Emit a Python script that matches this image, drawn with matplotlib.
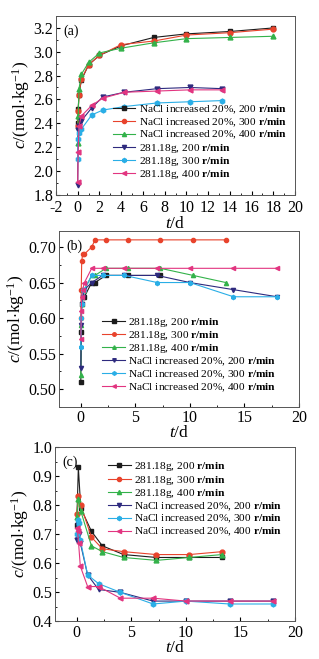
import numpy as np
import matplotlib
matplotlib.use("Agg")
import matplotlib.pyplot as plt
from matplotlib.ticker import MultipleLocator, FormatStrFormatter

plt.rcParams['font.family'] = ['Liberation Serif', 'DejaVu Serif']
plt.rcParams['mathtext.fontset'] = 'custom'
plt.rcParams['mathtext.rm'] = 'Liberation Serif'
plt.rcParams['mathtext.it'] = 'Liberation Serif:italic'
plt.rcParams['mathtext.bf'] = 'Liberation Serif:bold'
plt.rcParams['axes.unicode_minus'] = False

# ---- panel (a) ----
a_t_nacl = [0.0, 0.04, 0.12, 0.33, 1, 2, 4, 7, 10, 14, 18]
a_nacl_200 = [2.40, 2.52, 2.64, 2.76, 2.89, 2.97, 3.05, 3.12, 3.15, 3.17, 3.20]
a_nacl_300 = [2.38, 2.50, 2.64, 2.77, 2.89, 2.97, 3.06, 3.09, 3.14, 3.16, 3.19]
a_nacl_400 = [2.23, 2.46, 2.69, 2.81, 2.91, 2.99, 3.03, 3.075, 3.11, 3.12, 3.13]
a_t_g = [0.0, 0.04, 0.12, 0.33, 1.3, 2.3, 4.3, 7.3, 10.3, 13.3]
a_g_200 = [1.88, 2.34, 2.38, 2.42, 2.53, 2.62, 2.66, 2.69, 2.70, 2.69]
a_g_300 = [2.10, 2.27, 2.32, 2.35, 2.47, 2.51, 2.54, 2.57, 2.58, 2.59]
a_g_400 = [1.91, 2.16, 2.38, 2.46, 2.55, 2.61, 2.66, 2.67, 2.68, 2.68]

# ---- panel (b) ----
b_t_g = [0.0, 0.04, 0.08, 0.17, 0.33, 1.0, 1.3, 2.3, 4.3, 7.3, 10.3, 13.3]
b_g_200 = [0.51, 0.58, 0.62, 0.63, 0.63, 0.65, 0.65, 0.66, 0.66, 0.66]
b_g_300 = [0.60, 0.64, 0.68, 0.69, 0.69, 0.70, 0.71, 0.71, 0.71, 0.71, 0.71, 0.71]
b_g_400 = [0.52, 0.59, 0.62, 0.64, 0.64, 0.66, 0.66, 0.67, 0.67, 0.67, 0.66, 0.65]
b_t_nacl = [0.0, 0.04, 0.08, 0.17, 0.33, 1, 2, 4, 7, 10, 14, 18]
b_nacl_200 = [0.53, 0.59, 0.62, 0.63, 0.64, 0.65, 0.66, 0.66, 0.66, 0.65, 0.64, 0.63]
b_nacl_300 = [0.56, 0.60, 0.62, 0.64, 0.64, 0.66, 0.66, 0.66, 0.65, 0.65, 0.63, 0.63]
b_nacl_400 = [0.57, 0.61, 0.63, 0.64, 0.65, 0.67, 0.67, 0.67, 0.67, 0.67, 0.67, 0.67]

# ---- panel (c) ----
c_t_g = [0.0, 0.15, 0.37, 1.35, 2.35, 4.3, 7.3, 10.3, 13.3]
c_g_200 = [0.73, 0.93, 0.79, 0.71, 0.66, 0.63, 0.62, 0.62, 0.62]
c_g_300 = [0.77, 0.83, 0.80, 0.69, 0.65, 0.64, 0.63, 0.63, 0.64]
c_g_400 = [0.76, 0.82, 0.78, 0.66, 0.64, 0.62, 0.61, 0.62, 0.63]
c_t_nacl = [0.0, 0.08, 0.17, 0.33, 1, 2, 4, 7, 10, 14, 18]
c_nacl_200 = [0.68, 0.73, 0.70, 0.67, 0.56, 0.51, 0.50, 0.47, 0.47, 0.47, 0.47]
c_nacl_300 = [0.70, 0.75, 0.74, 0.68, 0.56, 0.53, 0.50, 0.46, 0.47, 0.46, 0.46]
c_nacl_400 = [0.72, 0.71, 0.67, 0.59, 0.52, 0.52, 0.48, 0.48, 0.47, 0.47, 0.47]

rm = r' $\mathbf{r/min}$'
lab_nacl = ['NaCl increased 20%, 200' + rm, 'NaCl increased 20%, 300' + rm,
            'NaCl increased 20%, 400' + rm]
lab_g = ['281.18g, 200' + rm, '281.18g, 300' + rm, '281.18g, 400' + rm]

col_black = '#1c1c1c'
col_red = '#e8432c'
col_green = '#33b24a'
col_navy = '#2e2a7e'
col_cyan = '#2aaee6'
col_pink = '#e23580'

ylab = r'$c$/(mol$\cdot$kg$^{-1}$)'
xlab = r'$t$/d'

fig = plt.figure(figsize=(3.19, 6.59), dpi=100)
axa = fig.add_axes([0.1755, 0.7046, 0.7495, 0.2711])
axb = fig.add_axes([0.185, 0.3824, 0.752, 0.2671])
axc = fig.add_axes([0.172, 0.057, 0.753, 0.2647])

ms = 3.5
lw = 0.8

def style(ax, xpad=2.5, lpad=-1):
    ax.tick_params(which='both', direction='in', labelsize=11.5)
    ax.tick_params(axis='x', pad=xpad)
    ax.tick_params(axis='y', pad=2)
    ax.tick_params(which='major', length=3)
    ax.tick_params(which='minor', length=1.5)
    for s in ax.spines.values():
        s.set_linewidth(0.7)
        s.set_color('#555555')
    ax.set_xlabel(xlab, fontsize=12.5, labelpad=lpad)
    ax.set_ylabel(ylab, fontsize=12.5, labelpad=1)

def add_legend(ax, loc, anchor):
    ax.legend(loc=loc, bbox_to_anchor=anchor, frameon=False, fontsize=8.2,
              handlelength=2.0, handletextpad=0.3, labelspacing=0.03,
              borderpad=0.2, markerscale=0.85)

# (a)
axa.plot(a_t_nacl, a_nacl_200, '-s', color=col_black, ms=ms, lw=lw, label=lab_nacl[0])
axa.plot(a_t_nacl, a_nacl_300, '-o', color=col_red, ms=ms, lw=lw, label=lab_nacl[1])
axa.plot(a_t_nacl, a_nacl_400, '-^', color=col_green, ms=ms, lw=lw, label=lab_nacl[2])
axa.plot(a_t_g, a_g_200, '-v', color=col_navy, ms=ms, lw=lw, label=lab_g[0])
axa.plot(a_t_g, a_g_300, '-h', color=col_cyan, ms=ms, lw=lw, label=lab_g[1])
axa.plot(a_t_g, a_g_400, '-<', color=col_pink, ms=ms, lw=lw, label=lab_g[2])
axa.set_xlim(-2, 20)
axa.set_ylim(1.8, 3.3)
axa.xaxis.set_major_locator(MultipleLocator(2))
axa.xaxis.set_minor_locator(MultipleLocator(1))
axa.yaxis.set_major_locator(MultipleLocator(0.2))
axa.yaxis.set_minor_locator(MultipleLocator(0.1))
axa.yaxis.set_major_formatter(FormatStrFormatter('%.1f'))
axa.text(0.03, 0.95, '(a)', transform=axa.transAxes, fontsize=10, va='top')
style(axa, xpad=4, lpad=-0.5)
add_legend(axa, 'lower right', (1.0, 0.03))

# (b)
axb.plot(b_t_g[:len(b_g_200)], b_g_200, '-s', color=col_black, ms=ms - 0.5, lw=lw, label=lab_g[0])
axb.plot(b_t_g, b_g_300, '-o', color=col_red, ms=ms - 0.5, lw=lw, label=lab_g[1])
axb.plot(b_t_g, b_g_400, '-^', color=col_green, ms=ms - 0.5, lw=lw, label=lab_g[2])
axb.plot(b_t_nacl, b_nacl_200, '-v', color=col_navy, ms=ms - 0.5, lw=lw, label=lab_nacl[0])
axb.plot(b_t_nacl, b_nacl_300, '-h', color=col_cyan, ms=ms - 0.5, lw=lw, label=lab_nacl[1])
axb.plot(b_t_nacl, b_nacl_400, '-<', color=col_pink, ms=ms - 0.5, lw=lw, label=lab_nacl[2])
axb.set_xlim(-2, 20)
axb.set_ylim(0.475, 0.7225)
axb.xaxis.set_major_locator(MultipleLocator(5))
axb.xaxis.set_minor_locator(MultipleLocator(2.5))
axb.yaxis.set_major_locator(MultipleLocator(0.05))
axb.yaxis.set_minor_locator(MultipleLocator(0.025))
axb.yaxis.set_major_formatter(FormatStrFormatter('%.2f'))
axb.text(0.03, 0.95, '(b)', transform=axb.transAxes, fontsize=10, va='top')
style(axb)
add_legend(axb, 'lower right', (0.94, 0.03))

# (c)
axc.plot(c_t_g, c_g_200, '-s', color=col_black, ms=ms, lw=lw, label=lab_g[0])
axc.plot(c_t_g, c_g_300, '-o', color=col_red, ms=ms, lw=lw, label=lab_g[1])
axc.plot(c_t_g, c_g_400, '-^', color=col_green, ms=ms, lw=lw, label=lab_g[2])
axc.plot(c_t_nacl, c_nacl_200, '-v', color=col_navy, ms=ms, lw=lw, label=lab_nacl[0])
axc.plot(c_t_nacl, c_nacl_300, '-h', color=col_cyan, ms=ms, lw=lw, label=lab_nacl[1])
axc.plot(c_t_nacl, c_nacl_400, '-<', color=col_pink, ms=ms, lw=lw, label=lab_nacl[2])
axc.set_xlim(-2, 20)
axc.set_ylim(0.4, 1.0)
axc.xaxis.set_major_locator(MultipleLocator(5))
axc.xaxis.set_minor_locator(MultipleLocator(2.5))
axc.yaxis.set_major_locator(MultipleLocator(0.1))
axc.yaxis.set_minor_locator(MultipleLocator(0.05))
axc.yaxis.set_major_formatter(FormatStrFormatter('%.1f'))
axc.text(0.03, 0.95, '(c)', transform=axc.transAxes, fontsize=10, va='top')
style(axc)
add_legend(axc, 'upper right', (0.98, 0.97))

fig.savefig('out.png', dpi=100)
